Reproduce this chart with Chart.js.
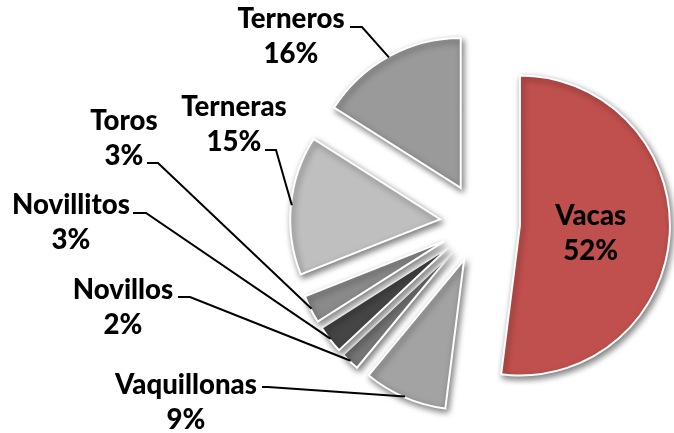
<!DOCTYPE html>
<html>
<head>
<meta charset="utf-8">
<script src="https://cdn.jsdelivr.net/npm/chart.js@4/dist/chart.umd.min.js"></script>
<style>
html,body{margin:0;padding:0;background:#fff;}
#c{display:block;}
</style>
</head>
<body>
<canvas id="c" width="674" height="433"></canvas>
<script>
// ---- data ----
const categories = ['Vacas', 'Vaquillonas', 'Novillos', 'Novillitos', 'Toros', 'Terneras', 'Terneros'];
const values = [52, 9, 2, 3, 3, 15, 16];
const pctLabels = ['52%', '9%', '2%', '3%', '3%', '15%', '16%'];

// ---- styling / layout ----
const colors = ['#C0504D', '#A3A3A3', '#767676', '#454545', '#8A8A8A', '#BFBFBF', '#9A9A9A'];
const explode = 40;
// label centre (name line, pct line below) ; null = inside slice
const labelPos = [null, [186, 385], [123, 290], [71, 205], [124, 121], [234, 107], [291, 19]];
// where the leader line leaves the label (then a short horizontal run)
const leaderStart = [null, [[262, 387], [268, 387]], [[178, 297], [190, 297]], [[133, 213], [146, 213]],
                     [[147, 163], [158, 163]], [[265, 150], [276, 150]], [[350, 27], [362, 27]]];
const lineGap = 35;

const explodePlugin = {
  id: 'explode',
  afterUpdate(chart) {
    chart.getDatasetMeta(0).data.forEach(arc => {
      const mid = (arc.startAngle + arc.endAngle) / 2;
      arc.x += explode * Math.cos(mid);
      arc.y += explode * Math.sin(mid);
    });
  }
};

const shadowPlugin = {
  id: 'shadow',
  beforeDatasetsDraw(chart) {
    const c = chart.ctx;
    c.save();
    c.shadowColor = 'rgba(0,0,0,0.5)';
    c.shadowBlur = 6;
    c.shadowOffsetX = 2;
    c.shadowOffsetY = 3;
  },
  afterDatasetsDraw(chart) {
    chart.ctx.restore();
  }
};

const labelPlugin = {
  id: 'labels',
  afterDraw(chart) {
    const c = chart.ctx;
    c.save();
    // fit font to reference width of "Vaquillonas"
    c.font = '900 100px Lato';
    const w100 = c.measureText('Vaquillonas').width;
    const size = Math.round(100 * 142 / w100 * 10) / 10;
    c.font = '900 ' + size + 'px Lato';
    c.fillStyle = '#000';
    c.textAlign = 'center';
    c.textBaseline = 'middle';
    const arcs = chart.getDatasetMeta(0).data;
    arcs.forEach((arc, i) => {
      if (!labelPos[i]) {
        const p = arc.getCenterPoint();
        c.fillText(categories[i], p.x - 4, p.y - 14);
        c.fillText(pctLabels[i], p.x - 4, p.y + 21);
        return;
      }
      const [lx, ly] = labelPos[i];
      c.fillText(categories[i], lx, ly);
      c.fillText(pctLabels[i], lx, ly + lineGap);
      // leader line
      const mid = (arc.startAngle + arc.endAngle) / 2;
      const r = arc.outerRadius - 1;
      const ex = arc.x + r * Math.cos(mid);
      const ey = arc.y + r * Math.sin(mid);
      const [a, b] = leaderStart[i];
      c.beginPath();
      c.strokeStyle = '#000';
      c.lineWidth = 2;
      c.moveTo(a[0], a[1]);
      c.lineTo(b[0], b[1]);
      c.lineTo(ex, ey);
      c.stroke();
    });
    c.restore();
  }
};

new Chart(document.getElementById('c'), {
  type: 'pie',
  data: {
    labels: categories,
    datasets: [{
      data: values,
      backgroundColor: colors,
      borderColor: '#ffffff',
      borderWidth: 2,
      borderJoinStyle: 'miter',
      radius: 150
    }]
  },
  options: {
    responsive: false,
    devicePixelRatio: 1,
    animation: false,
    events: [],
    radius: 150,
    layout: { padding: { left: 286, top: 13, right: 0, bottom: 0 } },
    plugins: { legend: { display: false }, tooltip: { enabled: false } }
  },
  plugins: [explodePlugin, shadowPlugin, labelPlugin]
});
</script>
</body>
</html>
